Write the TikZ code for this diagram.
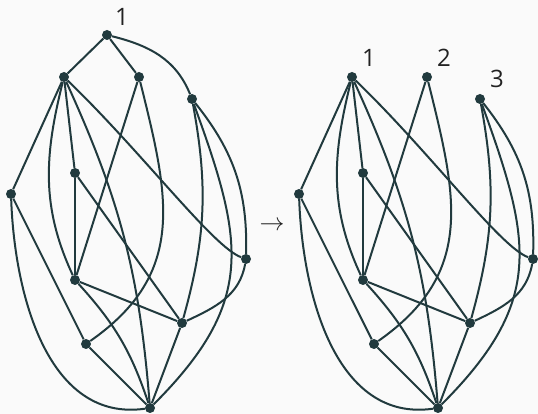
\documentclass[tikz,border=0pt]{standalone}
\usepackage{fontspec}
\setmainfont{Open Sans}
\definecolor{edgecol}{RGB}{33,58,62}
\definecolor{bgcol}{RGB}{250,250,250}
\definecolor{txtcol}{RGB}{34,34,34}
\tikzset{
  vtx/.style={circle,fill=edgecol,inner sep=0pt,minimum size=10pt},
  lbl/.style={text=txtcol,inner sep=0pt,font=\fontsize{24}{28}\selectfont},
  edge/.style={draw=edgecol,line width=2pt}
}
\begin{document}
\begin{tikzpicture}[x=1pt,y=1pt]
\useasboundingbox (0,0) rectangle (538,414);
\fill[bgcol] (0,0) rectangle (538,414);
% left graph
\node[vtx] (t) at (107,379) {};
\node[vtx] (a) at (64,337) {};
\node[vtx] (b) at (139,337) {};
\node[vtx] (c) at (192,315) {};
\node[vtx] (d) at (11,220) {};
\node[vtx] (e) at (75,241) {};
\node[vtx] (f) at (246,155) {};
\node[vtx] (g) at (75,134) {};
\node[vtx] (h) at (182,91) {};
\node[vtx] (i) at (86,70) {};
\node[vtx] (j) at (150,6) {};
\node[lbl] (tlab) at (122,397) {1};
\draw[edge] (t) -- (a);
\draw[edge] (t) -- (b);
\draw[edge] (t) to[out=-14,in=112] (c);
\draw[edge] (a) -- (d);
\draw[edge] (a) -- (e);
\draw[edge] (a) to[out=-104,in=115] (g);
\draw[edge] (a) to[bend left=10] (j);
\draw[edge] (a) .. controls +(-44:110) and +(160:35) .. (f);
\draw[edge] (b) -- (g);
\draw[edge] (b) to[out=-76,in=35,looseness=1.15] (i);
\draw[edge] (c) to[bend left=13] (h);
\draw[edge] (c) to[out=-70,in=45,looseness=1.23] (j);
\draw[edge] (c) to[bend left=20] (f);
\draw[edge] (d) -- (i);
\draw[edge] (d) to[out=-88,in=188] (j);
\draw[edge] (e) -- (g);
\draw[edge] (e) -- (h);
\draw[edge] (f) to[out=-100,in=25] (h);
\draw[edge] (g) -- (h);
\draw[edge] (g) to[bend left=12] (j);
\draw[edge] (h) -- (j);
\draw[edge] (i) -- (j);
% arrow between the two
\node[text=txtcol,font=\fontsize{30}{34}\selectfont] (arr) at (272,188) {$\to$};
% right graph
\node[vtx] (a2) at (352,337) {};
\node[vtx] (b2) at (427,337) {};
\node[vtx] (c2) at (480,315) {};
\node[vtx] (d2) at (299,220) {};
\node[vtx] (e2) at (363,241) {};
\node[vtx] (f2) at (533,155) {};
\node[vtx] (g2) at (363,134) {};
\node[vtx] (h2) at (470,91) {};
\node[vtx] (i2) at (374,70) {};
\node[vtx] (j2) at (438,6) {};
\node[lbl] (alab) at (369,356) {1};
\node[lbl] (blab) at (444,356) {2};
\node[lbl] (clab) at (497,335) {3};
\draw[edge] (a2) -- (d2);
\draw[edge] (a2) -- (e2);
\draw[edge] (a2) to[out=-104,in=115] (g2);
\draw[edge] (a2) to[bend left=10] (j2);
\draw[edge] (a2) .. controls +(-44:110) and +(160:35) .. (f2);
\draw[edge] (b2) -- (g2);
\draw[edge] (b2) to[out=-76,in=35,looseness=1.15] (i2);
\draw[edge] (c2) to[bend left=13] (h2);
\draw[edge] (c2) to[out=-70,in=45,looseness=1.23] (j2);
\draw[edge] (c2) to[bend left=20] (f2);
\draw[edge] (d2) -- (i2);
\draw[edge] (d2) to[out=-88,in=188] (j2);
\draw[edge] (e2) -- (g2);
\draw[edge] (e2) -- (h2);
\draw[edge] (f2) to[out=-100,in=25] (h2);
\draw[edge] (g2) -- (h2);
\draw[edge] (g2) to[bend left=12] (j2);
\draw[edge] (h2) -- (j2);
\draw[edge] (i2) -- (j2);
\end{tikzpicture}
\end{document}
